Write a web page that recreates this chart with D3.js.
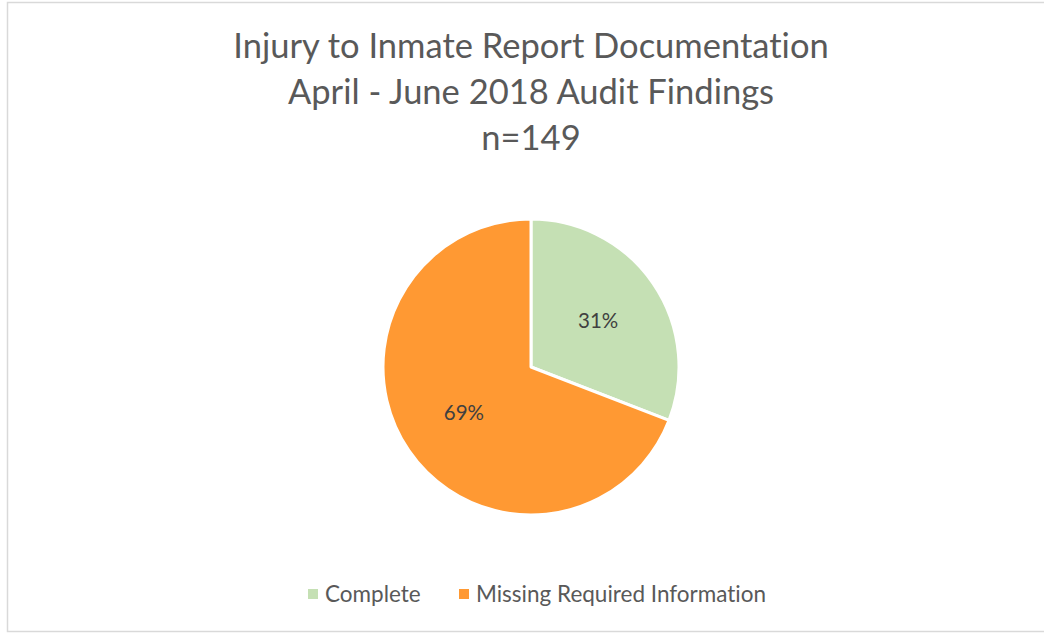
<!DOCTYPE html>
<html>
<head>
<meta charset="utf-8">
<script src="https://cdn.jsdelivr.net/npm/d3@7"></script>
<style>
  body { margin: 0; background: #fff; }
  svg { display: block; }
  text { font-variant-ligatures: none; }
</style>
</head>
<body>
<div id="chart"></div>
<script>
// data
let categories = ["Complete", "Missing Required Information"]
let counts = [46, 103]
let pct_labels = ["31%", "69%"]
let title_lines = ["Injury to Inmate Report Documentation", "April - June 2018 Audit Findings", "n=149"]

let width = 1044, height = 634
let font = "Lato, 'Open Sans', sans-serif"

let svg = d3.select('#chart')
    .append('svg')
    .attr('width', width)
    .attr('height', height)

// chart frame
svg.append('rect')
    .attr('x', 7.5)
    .attr('y', 2.5)
    .attr('width', 1040)
    .attr('height', 629)
    .attr('fill', 'white')
    .attr('stroke', '#d9d9d9')
    .attr('stroke-width', 1.5)

// title
svg.append('g')
    .selectAll('text')
    .data(title_lines)
    .join('text')
    .attr('x', 531)
    .attr('y', (d, i) => 57.5 + i * 46)
    .attr('text-anchor', 'middle')
    .style('font-family', font)
    .style('font-size', '34.5px')
    .style('fill', '#595959')
    .text(d => d)

let color = d3.scaleOrdinal()
    .domain(categories)
    .range(['#c5e0b4', '#ff9933'])

let pie = d3.pie().sort(null).value(d => d.value)
let arcs = pie(categories.map((c, i) => ({ name: c, value: counts[i], label: pct_labels[i] })))

let radius = 148
let arc = d3.arc().innerRadius(0).outerRadius(radius)
let labelArc = d3.arc().innerRadius(radius * 0.55).outerRadius(radius * 0.55)

let g = svg.append('g').attr('transform', 'translate(531,367)')

g.selectAll('path')
    .data(arcs)
    .join('path')
    .attr('d', arc)
    .attr('fill', d => color(d.data.name))
    .attr('stroke', 'white')
    .attr('stroke-width', 3)
    .attr('stroke-linejoin', 'round')

g.selectAll('text')
    .data(arcs)
    .join('text')
    .attr('transform', d => 'translate(' + labelArc.centroid(d) + ')')
    .attr('dy', '0.35em')
    .attr('text-anchor', 'middle')
    .style('font-family', font)
    .style('font-size', '20.5px')
    .style('fill', '#404040')
    .text(d => d.data.label)

// legend
let legendX = [308, 459]
let legend = svg.append('g')
    .selectAll('g')
    .data(categories)
    .join('g')
    .attr('transform', (d, i) => 'translate(' + legendX[i] + ',594)')

legend.append('rect')
    .attr('x', 0)
    .attr('y', -5)
    .attr('width', 10)
    .attr('height', 10)
    .attr('fill', d => color(d))

legend.append('text')
    .attr('x', 17)
    .attr('dy', '0.35em')
    .style('font-family', font)
    .style('font-size', '22.5px')
    .style('fill', '#595959')
    .text(d => d)
</script>
</body>
</html>
